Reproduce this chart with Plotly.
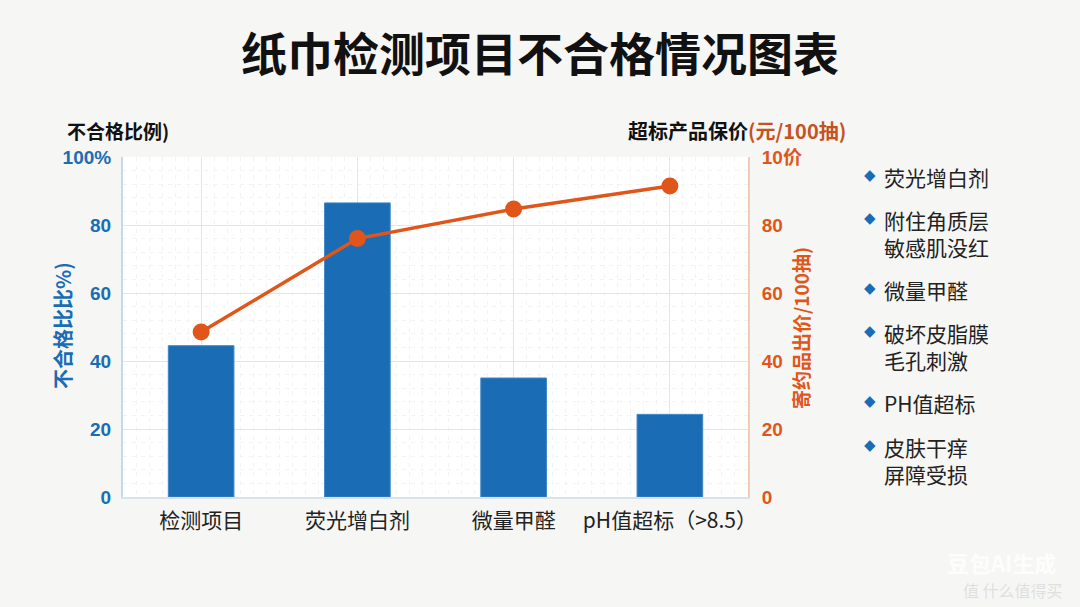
import plotly.graph_objects as go

categories = ["检测项目", "荧光增白剂", "微量甲醛", "pH值超标（>8.5）"]
fail_ratio = [44.5, 86.5, 35, 24.3]
price_values = [48.5, 76, 84.7, 91.5]
left_ticks = [0, 20, 40, 60, 80, 100]
left_ticktext = ["0", "20", "40", "60", "80", "100%"]
right_ticks = [0, 20, 40, 60, 80, 100]
right_ticktext = ["0", "20", "40", "60", "80", "10价"]
legend_items = ["荧光增白剂", "附住角质层<br>敏感肌没红", "微量甲醛", "破坏皮脂膜<br>毛孔刺激", "PH值超标", "皮肤干痒<br>屏障受损"]
legend_line1_px = [175, 218, 288, 331, 401, 445]

BLUE = "#1a6db4"
ORANGE = "#e0561a"
FONT = "Noto Sans CJK SC"
L, R, T, B, W, H = 123, 332, 157, 110, 1080, 607
PW, PH = W - L - R, H - T - B


def px_x(x):
    return (x - L) / PW


def px_y(y):
    return (H - B - y) / PH


x_idx = list(range(len(categories)))

fig = go.Figure()
fig.add_trace(go.Bar(x=x_idx, y=fail_ratio, marker=dict(color=BLUE, line=dict(color="#3f86c6", width=1)),
                     width=0.42, yaxis="y", showlegend=False, hoverinfo="y"))
fig.add_trace(go.Scatter(x=x_idx, y=price_values, mode="lines+markers", yaxis="y2",
                         line=dict(color=ORANGE, width=3.5), marker=dict(color=ORANGE, size=17),
                         showlegend=False))

fig.update_layout(
    width=W, height=H,
    margin=dict(l=L, r=R, t=T, b=B),
    paper_bgcolor="#f6f6f5", plot_bgcolor="#ffffff",
    font=dict(family=FONT, color="#222222"),
    title=dict(text="<b>纸巾检测项目不合格情况图表</b>", x=0.5, xanchor="center", y=0.91, yanchor="middle",
               font=dict(size=46, color="#111111", family=FONT)),
    xaxis=dict(range=[-0.5, 3.5], tickvals=x_idx, ticktext=categories,
               tickfont=dict(size=21, color="#222222", family=FONT), ticklabelstandoff=4,
               showgrid=True, gridcolor="#dfe6ee", gridwidth=1,
               minor=dict(dtick=1/12, showgrid=True, gridcolor="#f1f3f6", griddash="4px,5px", gridwidth=1),
               showline=True, linecolor="#d8e2ee", linewidth=2, ticks="", zeroline=False),
    yaxis=dict(range=[0, 100], tickvals=left_ticks, ticktext=left_ticktext,
               tickfont=dict(size=19, color=BLUE, family="Liberation Sans", weight="bold"), ticklabelstandoff=6,
               showgrid=True, gridcolor="#dfe6ee", gridwidth=1,
               minor=dict(dtick=4, showgrid=True, gridcolor="#f1f3f6", griddash="4px,5px", gridwidth=1),
               showline=True, linecolor="#c6d9ec", linewidth=2, zeroline=False),
    yaxis2=dict(range=[0, 100], overlaying="y", side="right", tickvals=right_ticks, ticktext=right_ticktext,
                tickfont=dict(size=19, color=ORANGE, family="Liberation Sans, Noto Sans CJK SC", weight="bold"),
                ticklabelstandoff=8,
                showgrid=False, showline=True, linecolor="#f1cdb8", linewidth=2, zeroline=False),
)

anns = []
anns.append(dict(text="<b>不合格比比%)</b>", xref="paper", yref="paper", x=px_x(62), y=px_y(325),
                 xanchor="center", yanchor="middle", textangle=-90, showarrow=False,
                 font=dict(size=20, color=BLUE, family=FONT)))
anns.append(dict(text="<b>寄约品出价/100抽)</b>", xref="paper", yref="paper", x=px_x(800), y=px_y(328),
                 xanchor="center", yanchor="middle", textangle=-90, showarrow=False,
                 font=dict(size=19, color=ORANGE, family=FONT)))
anns.append(dict(text="<b>不合格比例)</b>", xref="paper", yref="paper", x=px_x(65), y=px_y(130),
                 xanchor="left", yanchor="middle", showarrow=False,
                 font=dict(size=19, color="#111111", family=FONT)))
anns.append(dict(text="<b>超标产品保价<span style='color:#c4531d'>(元/100抽)</span></b>", xref="paper", yref="paper",
                 x=px_x(848), y=px_y(130), xanchor="right", yanchor="middle", showarrow=False,
                 font=dict(size=20, color="#111111", family=FONT)))
for txt, yy in zip(legend_items, legend_line1_px):
    anns.append(dict(text="◆", xref="paper", yref="paper", x=px_x(862), y=px_y(yy), xanchor="left",
                     yanchor="middle", showarrow=False, font=dict(size=15, color=BLUE, family="DejaVu Sans")))
    anns.append(dict(text=txt, xref="paper", yref="paper", x=px_x(882), y=px_y(yy - 15), xanchor="left",
                     yanchor="top", align="left", showarrow=False,
                     font=dict(size=21, color="#222222", family=FONT)))
anns.append(dict(text="<b>豆包AI生成</b>", xref="paper", yref="paper", x=px_x(1058), y=px_y(562), xanchor="right",
                 yanchor="middle", showarrow=False, font=dict(size=22, color="rgba(255,255,255,0.9)", family=FONT)))
anns.append(dict(text="值 什么值得买", xref="paper", yref="paper", x=px_x(1065), y=px_y(590), xanchor="right",
                 yanchor="middle", showarrow=False, font=dict(size=16, color="rgba(222,222,222,0.95)", family=FONT)))
fig.update_layout(annotations=anns)

fig.write_html("out.html")
